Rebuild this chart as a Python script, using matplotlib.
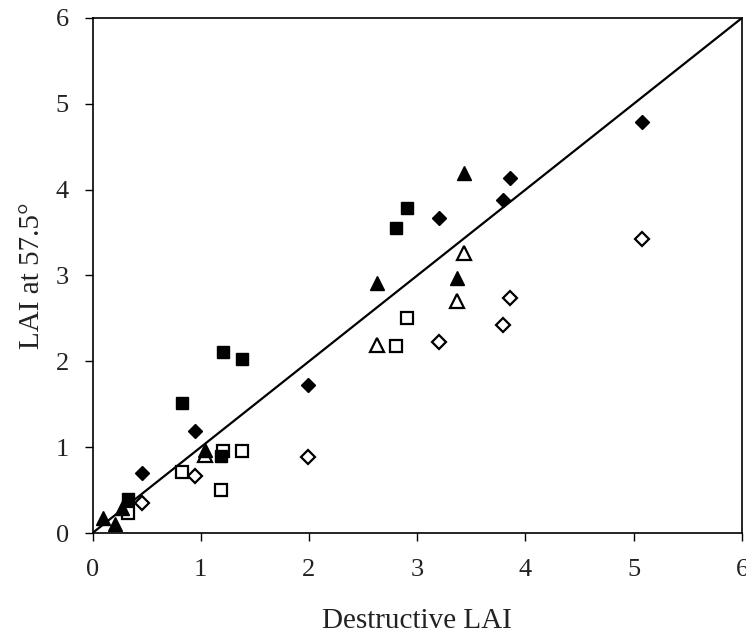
import matplotlib.pyplot as plt

plt.rcParams["font.family"] = ["Liberation Serif", "DejaVu Serif"]

# destructive LAI vs LAI at 57.5 deg, three crops, two estimates each
dia_x = [0.46, 0.95, 1.99, 3.20, 3.79, 3.855, 5.08]
dia_filled = [0.70, 1.19, 1.72, 3.67, 3.88, 4.13, 4.79]
dia_open = [0.35, 0.67, 0.89, 2.22, 2.42, 2.74, 3.43]

sq_x = [0.33, 0.83, 1.21, 1.38, 1.19, 2.80, 2.91]
sq_filled = [0.40, 1.52, 2.11, 2.03, 0.90, 3.55, 3.79]
sq_open = [0.23, 0.71, 0.96, 0.96, 0.50, 2.18, 2.51]

tri_x = [0.10, 0.205, 0.27, 1.04, 2.63, 3.37, 3.43]
tri_filled = [0.17, 0.11, 0.29, 0.97, 2.91, 2.97, 4.19]
tri_open_x = [1.04, 2.63, 3.37, 3.43]
tri_open = [0.91, 2.19, 2.70, 3.26]

fig = plt.figure(figsize=(7.46, 6.35), dpi=100)
ax = fig.add_axes([0.124, 0.1606, 0.8706, 0.8111])

ax.plot([0, 6], [0, 6], color="black", lw=1.6, zorder=1)

open_kw = dict(ls="none", mfc="white", mec="black", mew=1.6, zorder=2)
filled_kw = dict(ls="none", mfc="black", mec="black", mew=1.0, zorder=3)

ax.plot(dia_x, dia_open, "D", ms=7.5, **open_kw)
ax.plot(sq_x, sq_open, "s", ms=9, **open_kw)
ax.plot(tri_open_x, tri_open, "^", ms=10.5, **open_kw)

ax.plot(dia_x, dia_filled, "D", ms=7.5, **filled_kw)
ax.plot(sq_x, sq_filled, "s", ms=9, **filled_kw)
ax.plot(tri_x, tri_filled, "^", ms=10.5, **filled_kw)

ax.set_xlim(0, 6)
ax.set_ylim(0, 6)
ax.set_xticks(range(7))
ax.set_yticks(range(7))
ax.tick_params(direction="out", length=6, width=1, labelsize=19,
               labelcolor="#222222")
ax.tick_params(axis="x", pad=13)
ax.tick_params(axis="y", pad=11)
for s in ax.spines.values():
    s.set_linewidth(1.2)

ax.set_xlabel("Destructive LAI", fontsize=21, labelpad=19, color="#222222")
ax.set_ylabel("LAI at 57.5\u00b0", fontsize=21, labelpad=8, color="#222222")

fig.savefig("out.png", dpi=100)
